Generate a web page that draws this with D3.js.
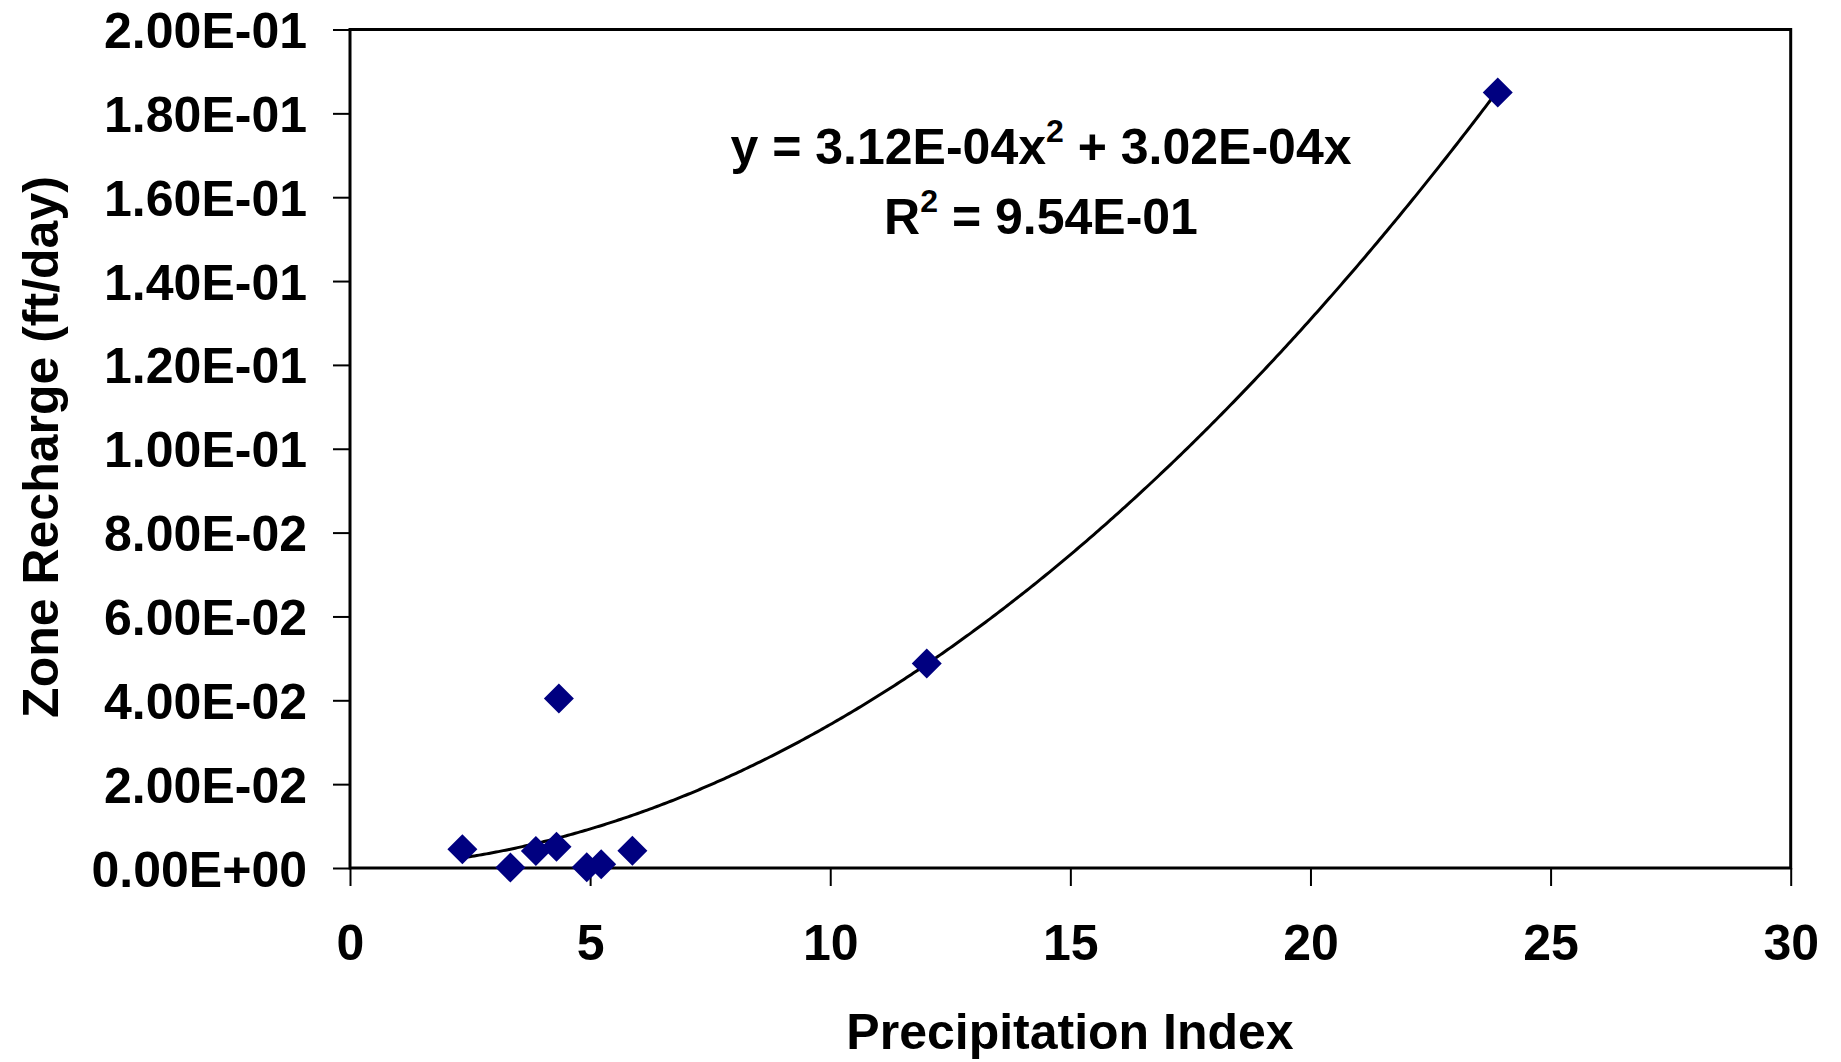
<!DOCTYPE html>
<html>
<head>
<meta charset="utf-8">
<script src="https://cdn.jsdelivr.net/npm/d3@7"></script>
<style>
  body { margin: 0; background: #fff; }
  text { font-family: "Liberation Sans", Arial, sans-serif; font-weight: bold; fill: #000; }
</style>
</head>
<body>
<div id="container"></div>
<script>
const width = 1841;
const height = 1062;

// data
const precipIndex = [2.34, 3.34, 3.87, 4.30, 4.35, 4.93, 5.23, 5.88, 12.01, 23.90];
const zoneRecharge = [0.00446, 0.0001, 0.00405, 0.00508, 0.0404, 0.0002, 0.0009, 0.0041, 0.0488, 0.1850];

// polynomial trendline y = c2*x^2 + c1*x + c0, as printed on the chart
const trendCoefs = [0, 3.02e-4, 3.12e-4];

const xTicks = [0, 5, 10, 15, 20, 25, 30];
const xTickLabels = ['0', '5', '10', '15', '20', '25', '30'];
const yTicks = [0, 0.02, 0.04, 0.06, 0.08, 0.10, 0.12, 0.14, 0.16, 0.18, 0.20];
const yTickLabels = ['0.00E+00', '2.00E-02', '4.00E-02', '6.00E-02', '8.00E-02', '1.00E-01',
    '1.20E-01', '1.40E-01', '1.60E-01', '1.80E-01', '2.00E-01'];

const svg = d3.select('#container').append('svg')
    .attr('width', width)
    .attr('height', height);

const x = d3.scaleLinear().domain([0, 30]).range([350, 1790.7]);
const y = d3.scaleLinear().domain([0, 0.2]).range([868, 29.5]);

// y axis
const yAxis = svg.append('g')
    .attr('transform', `translate(${x(0)},0)`)
    .call(d3.axisLeft(y)
        .tickValues(yTicks)
        .tickSize(17)
        .tickPadding(26)
        .tickFormat((d, i) => yTickLabels[i]));
yAxis.select('.domain').remove();
yAxis.selectAll('line').attr('stroke', '#000').attr('stroke-width', 2);
yAxis.selectAll('text').attr('font-size', 50).attr('dy', '0.36em');

// x axis
const xAxis = svg.append('g')
    .attr('transform', `translate(0,${y(0)})`)
    .call(d3.axisBottom(x)
        .tickValues(xTicks)
        .tickSize(18)
        .tickFormat((d, i) => xTickLabels[i]));
xAxis.select('.domain').remove();
xAxis.selectAll('line').attr('stroke', '#000').attr('stroke-width', 2);
xAxis.selectAll('text').attr('font-size', 50).attr('dy', null).attr('y', 92);

// plot frame
svg.append('rect')
    .attr('x', x(0))
    .attr('y', y(0.2))
    .attr('width', x(30) - x(0))
    .attr('height', y(0) - y(0.2))
    .attr('fill', 'none')
    .attr('stroke', '#000')
    .attr('stroke-width', 3);

// trendline
const [xMin, xMax] = d3.extent(precipIndex);
const trendX = d3.range(xMin, xMax, 0.05).concat([xMax]);
const poly = v => trendCoefs[0] + trendCoefs[1] * v + trendCoefs[2] * v * v;
svg.append('path')
    .datum(trendX)
    .attr('d', d3.line().x(d => x(d)).y(d => y(poly(d))))
    .attr('fill', 'none')
    .attr('stroke', '#000')
    .attr('stroke-width', 3);

// markers
const diamond = d3.symbol().type(d3.symbolSquare).size(450);
svg.selectAll('.pt')
    .data(precipIndex.map((v, i) => [v, zoneRecharge[i]]))
    .join('path')
    .attr('class', 'pt')
    .attr('d', diamond)
    .attr('transform', d => `translate(${x(d[0])},${y(d[1])}) rotate(45)`)
    .attr('fill', '#000080');

// equation label
const eq = svg.append('g').attr('font-size', 50);
const l1 = eq.append('text').attr('x', 1041).attr('y', 164).attr('text-anchor', 'middle');
l1.append('tspan').text('y = 3.12E-04x');
l1.append('tspan').attr('font-size', 32).attr('dy', -22).text('2');
l1.append('tspan').attr('dy', 22).text(' + 3.02E-04x');
const l2 = eq.append('text').attr('x', 1041).attr('y', 234).attr('text-anchor', 'middle');
l2.append('tspan').text('R');
l2.append('tspan').attr('font-size', 32).attr('dy', -22).text('2');
l2.append('tspan').attr('dy', 22).text(' = 9.54E-01');

// axis titles
svg.append('text')
    .attr('x', 1070)
    .attr('y', 1049)
    .attr('text-anchor', 'middle')
    .attr('font-size', 50)
    .text('Precipitation Index');

svg.append('text')
    .attr('transform', 'translate(58,447) rotate(-90)')
    .attr('text-anchor', 'middle')
    .attr('font-size', 50)
    .text('Zone Recharge (ft/day)');
</script>
</body>
</html>
